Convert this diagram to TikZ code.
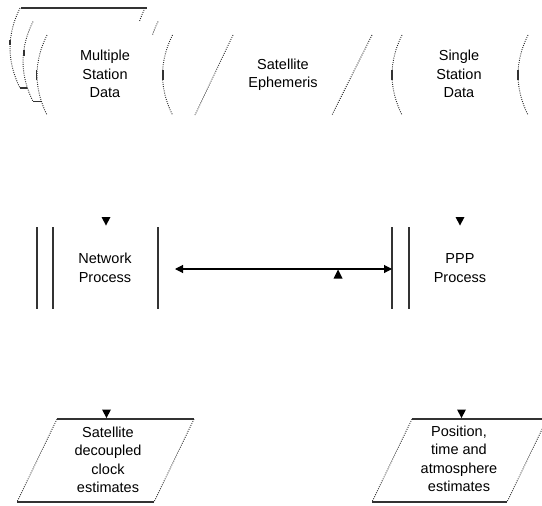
\documentclass[tikz,border=0pt]{standalone}
\usepackage{fontspec}
\setmainfont{Liberation Sans}
\usetikzlibrary{arrows.meta}
\tikzset{
  lbl/.style={font=\fontsize{14.5}{18.5}\selectfont, align=center, inner sep=0pt},
  dotline/.style={line width=0.9pt, dash pattern=on 0.9pt off 1.3pt, draw=black!85},
  solidline/.style={line width=1.1pt, draw=black!80},
  headtri/.style={fill=black},
  blank/.style={fill=white, draw=none},
}
% "(" shaped arc: top at (#1+10,#2), leftmost at (#1,#2+40), bottom at (#1+10,#2+80)
\newcommand\sdarc[2]{(#1+10,#2) .. controls (#1-3.3,#2+27) and (#1-3.3,#2+53) .. (#1+10,#2+80)}
\newcommand\sdarcrev[2]{(#1+10,#2+80) .. controls (#1-3.3,#2+53) and (#1-3.3,#2+27) .. (#1+10,#2)}
\newcommand\sdregion[3]{\sdarc{#1}{#3} -- \sdarcrev{#2}{#3} -- cycle}
\begin{document}
\begin{tikzpicture}[x=1pt,y=-1pt]
\fill[white] (0,0) rectangle (542,506);
\useasboundingbox (0,0) rectangle (542,506);

% ---------- Multiple Station Data (stacked) ----------
% back shape 2
\draw[dotline] \sdarc{10}{8};
\draw[dotline] \sdarc{135}{8};
\draw[solidline] (21,8) -- (147,8);
\draw[solidline] (20,88) -- (146,88);
\draw[solidline] (10,40) -- (10,45);
% back shape 1
\fill[blank] \sdregion{23}{148}{21.5};
\draw[dotline] \sdarc{23}{21.5};
\draw[dotline] \sdarc{148}{21.5};
\draw[solidline] (33,101.5) -- (159,101.5);
\draw[solidline] (24,50) -- (24,56);
% front shape
\fill[blank] \sdregion{37}{162.5}{35};
\draw[dotline] \sdarc{37}{35};
\draw[dotline] \sdarc{162.5}{35};
\draw[solidline] (36.5,70) -- (36.5,80);
\draw[solidline] (163,70) -- (163,80);
\node[lbl] (msd) at (105,74) {Multiple\\Station\\Data};

% ---------- Satellite Ephemeris ----------
\draw[dotline] (233,35) -- (195,115);
\draw[dotline] (372,35) -- (332,115);
\node[lbl] (se) at (283,75) {Satellite\\Ephemeris};

% ---------- Single Station Data ----------
\draw[dotline] \sdarc{392}{35};
\draw[dotline] \sdarc{518}{35};
\draw[solidline] (392,70) -- (392,80);
\draw[solidline] (518,70) -- (518,80);
\node[lbl] (ssd) at (459,74) {Single\\Station\\Data};

% ---------- Network Process ----------
\draw[solidline] (37,227) -- (37,309);
\draw[solidline] (53,227) -- (53,309);
\draw[solidline] (158,227) -- (158,309);
\node[lbl] (np) at (105,268) {Network\\Process};
\fill[headtri] (101.5,217) -- (110.5,217) -- (106,225.5) -- cycle;

% ---------- PPP Process ----------
\draw[solidline] (392,227) -- (392,309);
\draw[solidline] (409,227) -- (409,309);
\node[lbl] (pp) at (460,268) {PPP\\Process};
\fill[headtri] (455.5,217) -- (464.5,217) -- (460,225.5) -- cycle;

% ---------- connector between processes ----------
\coordinate (npout) at (175,269);
\coordinate (ppin) at (392,269);
\draw[line width=1.1pt, black, {Triangle[length=8pt,width=8pt]}-{Triangle[length=8pt,width=8pt]}] (npout) -- (ppin);
\fill[headtri] (338,269.5) -- (342.5,278.5) -- (333.5,278.5) -- cycle;

% ---------- Satellite decoupled clock estimates ----------
\draw[solidline] (57,419) -- (194,419);
\draw[solidline] (17,502) -- (154,502);
\draw[dotline] (57,419) -- (17,502);
\draw[dotline] (194,419) -- (154,502);
\node[lbl] (sdc) at (108,460) {Satellite\\decoupled\\clock\\estimates};
\fill[headtri] (102,409.5) -- (111,409.5) -- (106.5,418) -- cycle;

% ---------- Position, time and atmosphere estimates ----------
\draw[solidline] (412,419) -- (547,419);
\draw[solidline] (372,502) -- (507,502);
\draw[dotline] (412,419) -- (372,502);
\draw[dotline] (547,419) -- (507,502);
\node[lbl] (pta) at (459,459) {Position,\\time and\\atmosphere\\estimates};
\fill[headtri] (457,409.5) -- (466,409.5) -- (461.5,418) -- cycle;
\end{tikzpicture}
\end{document}
